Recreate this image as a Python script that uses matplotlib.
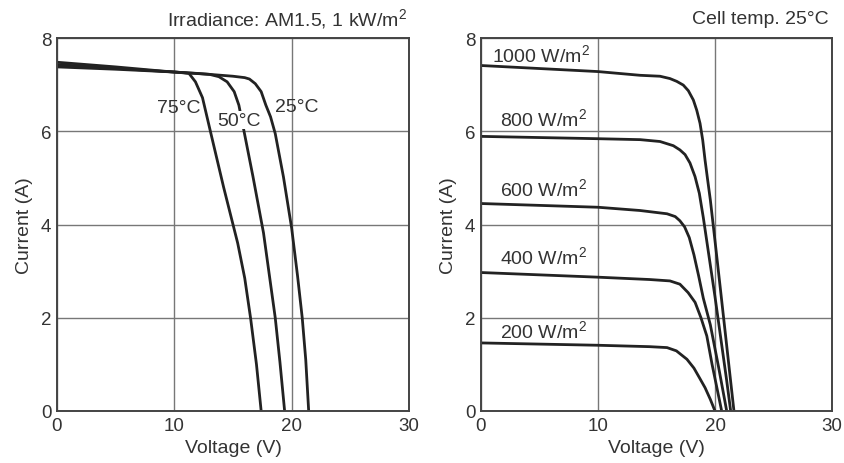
import matplotlib
matplotlib.use("Agg")
import matplotlib.pyplot as plt

plt.rcParams["font.family"] = ["Liberation Sans", "DejaVu Sans"]
plt.rcParams["mathtext.fontset"] = "custom"
plt.rcParams["mathtext.rm"] = "Liberation Sans"

# left panel: I-V curves at different cell temperatures
v25 = [0, 5, 10, 13, 15, 16.0, 16.4, 16.9, 17.4, 17.8, 18.2, 18.6, 19.3, 20.0, 20.5, 20.9, 21.2, 21.45]
i25 = [7.38, 7.33, 7.27, 7.22, 7.18, 7.15, 7.12, 7.02, 6.85, 6.56, 6.31, 5.95, 5.02, 3.92, 2.9, 2.0, 1.1, 0]
v50 = [0, 5, 10, 12, 13.0, 13.8, 14.5, 15.1, 15.5, 15.9, 16.7, 17.6, 18.6, 19.0, 19.4]
i50 = [7.43, 7.35, 7.27, 7.24, 7.22, 7.17, 7.06, 6.85, 6.56, 6.05, 5.03, 3.82, 2.0, 1.05, 0]
v75 = [0, 5, 9, 10.5, 11.25, 11.8, 12.4, 13.1, 14.2, 15.4, 16.0, 16.5, 17.0, 17.4]
i75 = [7.48, 7.38, 7.29, 7.26, 7.24, 7.06, 6.72, 5.97, 4.8, 3.6, 2.85, 1.99, 1.0, 0]
temp_labels = ["25°C", "50°C", "75°C"]
temp_label_pos = [(20.4, 6.54), (15.5, 6.24), (10.4, 6.5)]

# right panel: I-V curves at different irradiance
v1000 = [0, 10, 13.6, 15.3, 16.15, 16.73, 17.29, 17.72, 18.15, 18.44, 18.72, 18.95, 19.15,
         19.37, 19.6, 20.0, 20.5, 21.0, 21.62]
i1000 = [7.41, 7.28, 7.2, 7.18, 7.13, 7.07, 6.99, 6.87, 6.67, 6.45, 6.17, 5.81, 5.38,
         4.96, 4.53, 3.65, 2.53, 1.4, 0]
v800 = [0, 10, 13.6, 15.3, 16.44, 17.0, 17.44, 17.86, 18.29, 18.66, 19.0, 19.5, 20.0,
        20.5, 21.0, 21.34]
i800 = [5.89, 5.84, 5.82, 5.78, 5.69, 5.6, 5.5, 5.32, 5.03, 4.67, 4.15, 3.3, 2.45,
        1.55, 0.65, 0]
v600 = [0, 10, 13.6, 15.9, 16.6, 17.0, 17.4, 17.8, 18.2, 18.6, 19.0, 19.6, 20.3, 21.0]
i600 = [4.45, 4.37, 4.3, 4.23, 4.17, 4.08, 3.95, 3.72, 3.35, 2.9, 2.42, 1.85, 0.95, 0]
v400 = [0, 10, 14.4, 16.15, 17.0, 17.7, 18.3, 18.8, 19.3, 19.75, 20.57]
i400 = [2.97, 2.87, 2.82, 2.79, 2.72, 2.54, 2.33, 2.0, 1.61, 1.0, 0]
v200 = [0, 10, 14.4, 15.9, 16.7, 17.6, 18.2, 18.7, 19.15, 19.6, 20.0]
i200 = [1.46, 1.41, 1.38, 1.36, 1.29, 1.11, 0.92, 0.7, 0.5, 0.25, 0]
irr_labels = ["1000 W/m$^{\\mathrm{2}}$", "800 W/m$^{\\mathrm{2}}$", "600 W/m$^{\\mathrm{2}}$",
              "400 W/m$^{\\mathrm{2}}$", "200 W/m$^{\\mathrm{2}}$"]
irr_label_pos = [(0.9, 7.65), (1.6, 6.26), (1.6, 4.77), (1.6, 3.31), (1.6, 1.71)]

fig = plt.figure(figsize=(8.44, 4.64), dpi=100)
ax1 = fig.add_axes([57/844, 52/464, 352/844, 373/464])
ax2 = fig.add_axes([481/844, 52/464, 351/844, 373/464])

lc = "#222222"
for ax in (ax1, ax2):
    ax.set_xlim(0, 30)
    ax.set_ylim(0, 8)
    ax.set_xticks([0, 10, 20, 30])
    ax.set_yticks([0, 2, 4, 6, 8])
    ax.grid(True, color="#777777", linewidth=1.0)
    ax.set_axisbelow(True)
    ax.tick_params(length=0, labelsize=13.5, colors="#333333", pad=4)
    for s in ax.spines.values():
        s.set_color("#444444")
        s.set_linewidth(1.4)
    ax.set_xlabel("Voltage (V)", fontsize=14, color="#333333", labelpad=4)
    ax.set_ylabel("Current (A)", fontsize=14, color="#333333", labelpad=6)

for v, i in [(v25, i25), (v50, i50), (v75, i75)]:
    ax1.plot(v, i, color=lc, linewidth=2)
for lab, (x, y) in zip(temp_labels, temp_label_pos):
    t = ax1.text(x, y, lab, fontsize=14, color="#333333", ha="center", va="center")
    if lab == "50°C":
        # the 50°C curve is broken where its label sits
        t.set_bbox(dict(facecolor="white", edgecolor="none", pad=0.5))

for v, i in [(v1000, i1000), (v800, i800), (v600, i600), (v400, i400), (v200, i200)]:
    ax2.plot(v, i, color=lc, linewidth=2)
for lab, (x, y) in zip(irr_labels, irr_label_pos):
    ax2.text(x, y, lab, fontsize=14, color="#333333", ha="left", va="center")

fig.text(407/844, 1 - 20/464, "Irradiance: AM1.5, 1 kW/m$^{\\mathrm{2}}$", fontsize=14,
         color="#333333", ha="right", va="center")
fig.text(829/844, 1 - 20/464, "Cell temp. 25°C", fontsize=14,
         color="#333333", ha="right", va="center")

fig.savefig("out.png", dpi=100)
